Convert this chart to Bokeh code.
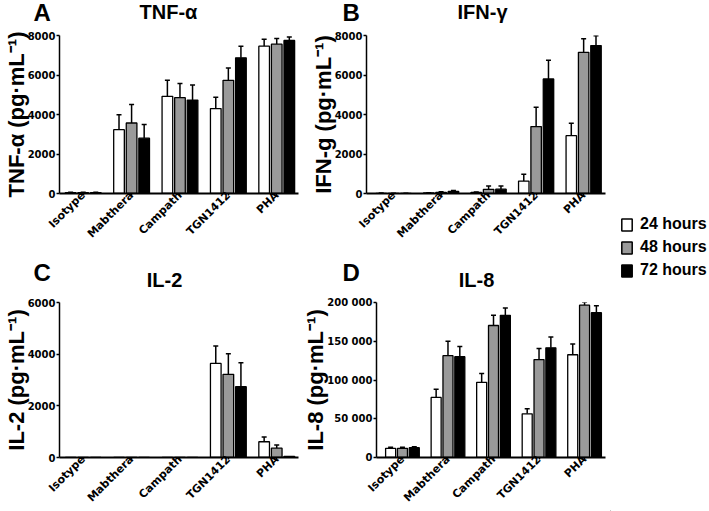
import math
from bokeh.plotting import figure
from bokeh.models import (ColumnDataSource, FixedTicker, Range1d, Whisker, TeeHead,
                          Label, Legend, LegendItem)
from bokeh.layouts import row, column
from bokeh.embed import file_html
from bokeh.resources import INLINE

categories = ["Isotype", "Mabthera", "Campath", "TGN1412", "PHA"]
series = ["24 hours", "48 hours", "72 hours"]
colors = ["white", "#9a9a9a", "black"]

# Panel A: TNF-alpha
tnf_24 = [40, 3230, 4920, 4300, 7460]
tnf_24_err = [20, 760, 820, 570, 350]
tnf_48 = [40, 3570, 4850, 5730, 7560]
tnf_48_err = [20, 940, 720, 620, 290]
tnf_72 = [40, 2800, 4730, 6870, 7750]
tnf_72_err = [20, 690, 760, 590, 180]

# Panel B: IFN-gamma
ifn_24 = [10, 30, 50, 630, 2930]
ifn_24_err = [10, 10, 20, 340, 630]
ifn_48 = [5, 60, 210, 3390, 7150]
ifn_48_err = [5, 30, 170, 980, 690]
ifn_72 = [5, 110, 220, 5800, 7490]
ifn_72_err = [5, 40, 160, 950, 500]

# Panel C: IL-2
il2_24 = [0, 0, 0, 3640, 610]
il2_24_err = [0, 0, 0, 680, 180]
il2_48 = [0, 0, 0, 3220, 360]
il2_48_err = [0, 0, 0, 800, 120]
il2_72 = [0, 0, 0, 2740, 40]
il2_72_err = [0, 0, 0, 930, 0]

# Panel D: IL-8
il8_24 = [11800, 77500, 97000, 56400, 132600]
il8_24_err = [1300, 10600, 11400, 6400, 14000]
il8_48 = [11800, 131400, 170300, 126300, 196600]
il8_48_err = [1300, 18600, 13100, 14400, 3800]
il8_72 = [12700, 130100, 183500, 141500, 186900]
il8_72_err = [1300, 13100, 9300, 14000, 8900]

tnf_ticks = [0, 2000, 4000, 6000, 8000]
ifn_ticks = [0, 2000, 4000, 6000, 8000]
il2_ticks = [0, 2000, 4000, 6000]
il8_ticks = [0, 50000, 100000, 150000, 200000]
il8_tick_labels = ["0", "50 000", "100 000", "150 000", "200 000"]

panel_letters = ["A", "B", "C", "D"]
panel_titles = ["TNF-\u03b1", "IFN-\u03b3", "IL-2", "IL-8"]

FONT = "Liberation Sans"
TICK_FONT = "DejaVu Sans"


def panel(ylabel, ymax, yticks, ylabels, vals, errs, width, height, bl, br, bt, bb, xr):
    p = figure(width=width, height=height, x_range=Range1d(*xr), y_range=Range1d(0, ymax),
               output_backend="svg", toolbar_location=None, title=None,
               min_border_left=bl, min_border_right=br, min_border_top=bt, min_border_bottom=bb)
    p.outline_line_color = None
    p.grid.visible = False
    p.background_fill_color = "white"
    p.border_fill_color = "white"

    offsets = [-0.26, 0.0, 0.26]
    for v, e, c, off in zip(vals, errs, colors, offsets):
        xs = [i + off for i in range(len(categories))]
        p.vbar(x=xs, top=v, width=0.22, fill_color=c, line_color="black", line_width=1.3)
        keep = [k for k in range(len(v)) if e[k] > 0]
        src = ColumnDataSource(dict(x=[xs[k] for k in keep], lo=[v[k] for k in keep],
                                    hi=[v[k] + e[k] for k in keep]))
        w = Whisker(source=src, base="x", lower="lo", upper="hi", dimension="height",
                    line_color="black", line_width=1.5,
                    upper_head=TeeHead(size=5, line_color="black", line_width=1.5),
                    lower_head=None)
        p.add_layout(w)

    xa = p.xaxis[0]
    xa.ticker = FixedTicker(ticks=list(range(len(categories))))
    xa.major_label_overrides = {i: c for i, c in enumerate(categories)}
    xa.major_label_orientation = math.pi / 4
    xa.minor_tick_line_color = None
    xa.major_tick_in = 0
    xa.major_tick_out = 2
    xa.axis_line_width = 2
    xa.major_tick_line_width = 1.5
    xa.major_label_standoff = -2
    xa.major_label_text_font_size = "11px"

    ya = p.yaxis[0]
    ya.ticker = FixedTicker(ticks=yticks)
    ya.major_label_overrides = {t: l for t, l in zip(yticks, ylabels)}
    ya.minor_tick_line_color = None
    ya.major_tick_in = 0
    ya.major_tick_out = 3
    ya.axis_line_width = 1.5
    ya.major_tick_line_width = 1.5
    ya.major_label_standoff = 1
    ya.major_label_text_font_size = "10px"
    ya.axis_label = ylabel
    ya.axis_label_standoff = -4
    ya.axis_label_text_font_size = "22px"

    for ax in (xa, ya):
        ax.axis_line_color = "black"
        ax.major_tick_line_color = "black"
        ax.major_label_text_font = TICK_FONT
        ax.major_label_text_font_style = "bold"
        ax.major_label_text_color = "black"
        ax.axis_label_text_font = FONT
        ax.axis_label_text_font_style = "bold"
        ax.axis_label_text_color = "black"
    return p


def header(width, height, letters, letter_xs, letter_y, titles, title_xs, title_y):
    h = figure(width=width, height=height, x_range=Range1d(0, 1), y_range=Range1d(0, 1),
               output_backend="svg", toolbar_location=None, title=None,
               x_axis_type=None, y_axis_type=None, min_border=0)
    h.outline_line_color = None
    h.grid.visible = False
    for t, x in zip(letters, letter_xs):
        h.add_layout(Label(x=x, y=letter_y, x_units="screen", y_units="screen", text=t,
                           text_align="left", text_baseline="middle", text_font=FONT,
                           text_font_style="bold", text_font_size="24px", text_color="black"))
    for t, x in zip(titles, title_xs):
        h.add_layout(Label(x=x, y=title_y, x_units="screen", y_units="screen", text=t,
                           text_align="center", text_baseline="middle", text_font=FONT,
                           text_font_style="bold", text_font_size="20px", text_color="black"))
    return h


hdr1 = header(610, 27, panel_letters[:2], [33, 342], 15, panel_titles[:2], [168, 482], 16)
hdr2 = header(610, 44, panel_letters[2:], [33, 342], 22, panel_titles[2:], [164, 476], 15)

pa = panel("TNF-\u03b1 (pg\u00b7mL\u207b\u00b9)", 8000, tnf_ticks, [str(t) for t in tnf_ticks],
           [tnf_24, tnf_48, tnf_72], [tnf_24_err, tnf_48_err, tnf_72_err],
           300, 223, 58, 2, 8, 57, (-0.49, 4.45))
pb = panel("IFN-g (pg\u00b7mL\u207b\u00b9)", 8000, ifn_ticks, [str(t) for t in ifn_ticks],
           [ifn_24, ifn_48, ifn_72], [ifn_24_err, ifn_48_err, ifn_72_err],
           310, 223, 66, 5, 8, 57, (-0.57, 4.46))
pc = panel("IL-2 (pg\u00b7mL\u207b\u00b9)", 6000, il2_ticks, [str(t) for t in il2_ticks],
           [il2_24, il2_48, il2_72], [il2_24_err, il2_48_err, il2_72_err],
           300, 217, 58, 2, 8, 53, (-0.49, 4.45))
pd_ = panel("IL-8 (pg\u00b7mL\u207b\u00b9)", 200000, il8_ticks, il8_tick_labels,
            [il8_24, il8_48, il8_72], [il8_24_err, il8_48_err, il8_72_err],
            310, 217, 66, 5, 8, 52, (-0.57, 4.46))

lg = figure(width=99, height=511, x_range=Range1d(10, 11), y_range=Range1d(10, 11),
            output_backend="svg", toolbar_location=None, title=None,
            x_axis_type=None, y_axis_type=None, min_border=0)
lg.outline_line_color = None
lg.grid.visible = False
items = []
for i, (s, c) in enumerate(zip(series, colors)):
    r = lg.vbar(x=[i], top=[0], width=0.1, fill_color=c, line_color="black", line_width=1.5)
    items.append(LegendItem(label=s, renderers=[r]))
leg = Legend(items=items, location=(10, 232), orientation="vertical",
             glyph_width=13, glyph_height=15, label_standoff=7, spacing=5, padding=0,
             margin=0, border_line_color=None, background_fill_color=None,
             label_text_font=FONT, label_text_font_style="bold", label_text_font_size="16px",
             label_text_color="black", label_height=15)
lg.add_layout(leg)

layout = row(column(hdr1, row(pa, pb), hdr2, row(pc, pd_)), lg)

with open("out.html", "w") as f:
    f.write(file_html(layout, INLINE))
